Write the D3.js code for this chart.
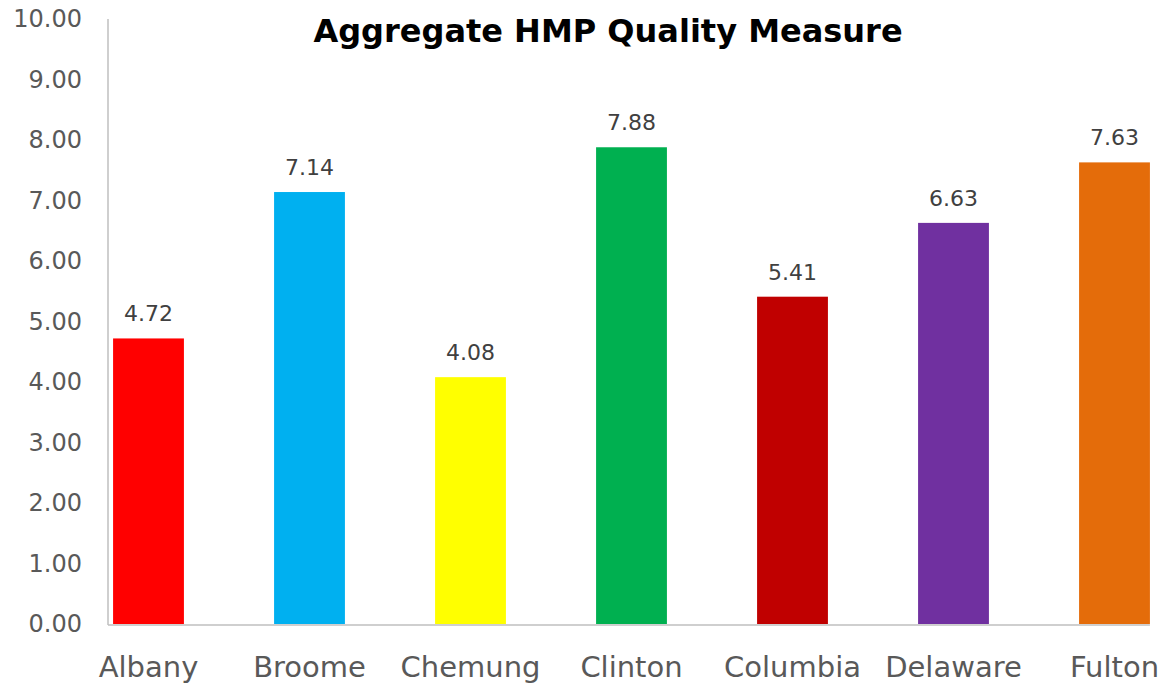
<!DOCTYPE html>
<html>
<head>
<meta charset="utf-8">
<script src="https://cdn.jsdelivr.net/npm/d3@7"></script>
<style>
  html, body { margin: 0; padding: 0; background: #fff; }
  svg { display: block; font-family: "DejaVu Sans", sans-serif; }
</style>
</head>
<body>
<svg id="chart" width="1164" height="685"></svg>
<script>
const categories = ["Albany", "Broome", "Chemung", "Clinton", "Columbia", "Delaware", "Fulton"];
const values = [4.72, 7.14, 4.08, 7.88, 5.41, 6.63, 7.63];
const barColors = ["#FF0000", "#00B0F0", "#FFFF00", "#00B050", "#C00000", "#7030A0", "#E46C0A"];
const yTicks = [0, 1, 2, 3, 4, 5, 6, 7, 8, 9, 10];
const title = "Aggregate HMP Quality Measure";

const svg = d3.select("#chart");

const x = d3.scaleBand().domain(categories).range([68, 1195]).paddingInner(0.56).paddingOuter(0.28);
const y = d3.scaleLinear().domain([0, 10]).range([624, 19]);

// Title
svg.append("text")
  .attr("x", 608).attr("y", 42)
  .attr("text-anchor", "middle")
  .attr("font-weight", "bold")
  .attr("font-size", 32)
  .attr("fill", "#000")
  .text(title);

// Y axis labels
const yAxis = d3.axisLeft(y).tickValues(yTicks).tickFormat(d3.format(".2f")).tickSize(0).tickPadding(0);
const gy = svg.append("g").attr("transform", "translate(82,0)").call(yAxis);
gy.select(".domain").remove();
gy.selectAll("text").attr("font-size", 24).attr("fill", "#595959").attr("font-family", "DejaVu Sans, sans-serif");

// Bars
svg.append("g").selectAll("rect")
  .data(categories)
  .join("rect")
  .attr("x", d => x(d))
  .attr("width", x.bandwidth())
  .attr("y", (d, i) => y(values[i]))
  .attr("height", (d, i) => y(0) - y(values[i]))
  .attr("fill", (d, i) => barColors[i]);

// Axis lines
svg.append("line")
  .attr("x1", 108).attr("x2", 108)
  .attr("y1", y(10)).attr("y2", y(0) + 1)
  .attr("stroke", "#BFBFBF").attr("stroke-width", 1.5);
svg.append("line")
  .attr("x1", 108).attr("x2", x(categories[categories.length - 1]) + x.bandwidth())
  .attr("y1", y(0) + 1).attr("y2", y(0) + 1)
  .attr("stroke", "#BFBFBF").attr("stroke-width", 1.5);

// X axis labels
const xAxis = d3.axisBottom(x).tickSize(0).tickPadding(0);
const gx = svg.append("g").attr("transform", "translate(0,654)").call(xAxis);
gx.select(".domain").remove();
gx.selectAll("text").attr("font-size", 29).attr("fill", "#595959").attr("dy", "0.8em").attr("font-family", "DejaVu Sans, sans-serif");

// Data labels
svg.append("g").selectAll("text")
  .data(categories)
  .join("text")
  .attr("x", d => x(d) + x.bandwidth() / 2)
  .attr("y", (d, i) => y(values[i]) - 17)
  .attr("text-anchor", "middle")
  .attr("font-size", 22)
  .attr("fill", "#404040")
  .text((d, i) => d3.format(".2f")(values[i]));
</script>
</body>
</html>
